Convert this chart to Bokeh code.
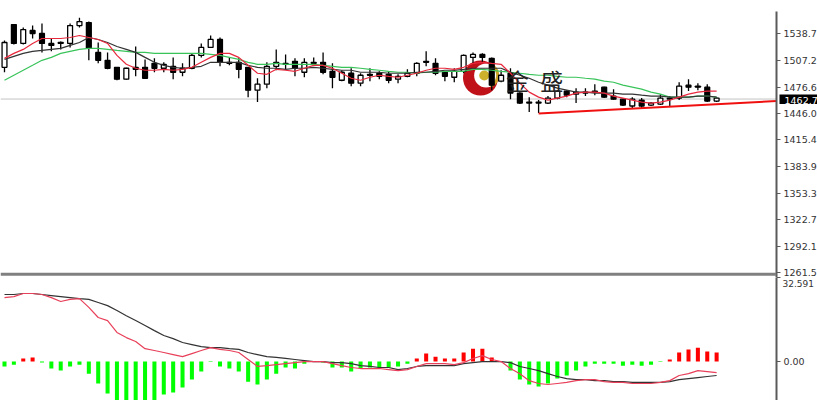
from bokeh.plotting import figure
from bokeh.layouts import column
from bokeh.models import FixedTicker, Range1d, Span
from bokeh.core.properties import value
from bokeh.embed import file_html
from bokeh.resources import INLINE

opens = [1499.5,1549.1,1527.2,1542.2,1538.7,1527.2,1528.3,1527.2,1547.9,1551.4,1516.8,1507.6,1499.5,1485.7,1499.5,1499.5,1504.1,1498.4,1500.7,1493.8,
         1498.4,1513.3,1522.6,1531.8,1505.3,1505.3,1499.5,1473.0,1479.9,1500.7,1504.1,1506.4,1493.8,1505.3,1505.3,1494.9,1484.5,1492.6,1481.1,1491.4,
         1492.6,1491.4,1485.7,1489.1,1492.6,1506.4,1504.1,1493.8,1488.0,1494.9,1511.0,1514.5,1509.9,1483.4,1492.6,1469.6,1459.2,1459.2,1458.0,1463.8,
         1471.9,1468.4,1470.7,1471.9,1476.5,1466.1,1462.6,1454.6,1461.5,1455.7,1456.9,1462.6,1463.8,1478.8,1477.6,1476.5,1460.3]
closes = [1528.3,1527.2,1543.3,1538.7,1527.2,1524.9,1527.2,1547.9,1552.5,1521.4,1507.6,1498.4,1485.7,1498.4,1497.2,1486.8,1498.4,1503.0,1493.8,1498.4,
          1513.3,1522.6,1531.8,1505.3,1504.1,1497.2,1473.0,1479.9,1500.7,1505.3,1503.0,1498.4,1505.3,1504.1,1493.8,1488.0,1493.8,1481.1,1490.3,1490.3,
          1489.1,1484.5,1489.1,1492.6,1504.1,1505.3,1492.6,1489.1,1494.9,1513.3,1514.5,1511.0,1478.8,1490.3,1469.6,1458.0,1458.0,1458.0,1463.8,1471.9,
          1467.2,1470.7,1469.6,1470.7,1464.9,1462.6,1455.7,1462.6,1454.6,1458.0,1463.8,1463.8,1477.6,1476.5,1476.5,1460.3,1463.8]
highs = [1530.6,1549.1,1545.6,1547.9,1550.2,1532.9,1529.5,1550.2,1557.1,1552.5,1528.3,1516.8,1500.0,1499.0,1523.7,1508.7,1509.9,1505.3,1511.0,1504.1,
         1515.7,1527.2,1536.4,1534.1,1511.0,1509.9,1500.0,1486.8,1505.3,1520.3,1514.5,1509.9,1509.9,1511.0,1516.8,1504.1,1496.1,1498.4,1492.6,1498.4,
         1494.9,1494.9,1491.4,1497.2,1505.3,1518.0,1509.9,1494.9,1498.4,1514.5,1516.8,1515.7,1511.0,1496.1,1498.4,1470.7,1464.9,1461.5,1466.1,1473.0,
         1473.0,1475.3,1475.3,1479.9,1477.0,1474.2,1463.0,1464.9,1463.8,1459.2,1468.4,1466.1,1482.2,1485.7,1481.1,1479.9,1464.9]
lows = [1493.8,1526.0,1526.0,1532.9,1516.8,1518.0,1520.3,1522.6,1545.6,1507.6,1504.1,1497.2,1484.5,1485.0,1489.1,1486.5,1493.8,1493.8,1485.7,1489.1,
        1497.2,1511.0,1522.0,1500.7,1501.8,1486.8,1464.9,1459.2,1475.3,1496.1,1497.2,1489.1,1488.0,1501.8,1491.4,1475.3,1483.4,1477.6,1477.6,1483.4,
        1485.7,1481.1,1481.1,1488.0,1489.1,1500.7,1490.3,1483.4,1482.2,1492.6,1504.1,1505.3,1473.0,1482.2,1462.6,1456.9,1447.7,1446.5,1456.9,1462.6,
        1464.9,1458.0,1466.1,1467.2,1463.8,1462.0,1454.6,1451.1,1452.3,1454.6,1455.7,1454.6,1461.5,1471.9,1473.0,1459.2,1459.2]
ma_red = [1509.9,1515.7,1520.3,1527.2,1532.9,1532.9,1532.9,1534.1,1536.4,1534.1,1531.8,1527.2,1513.3,1503.0,1498.4,1496.1,1496.1,1497.2,1496.1,1497.2,
          1499.5,1505.3,1511.0,1515.7,1515.7,1511.0,1501.8,1492.6,1491.4,1497.2,1496.1,1494.9,1498.4,1501.8,1501.8,1498.4,1492.6,1486.8,1484.5,1488.0,
          1490.3,1489.1,1488.0,1490.3,1492.6,1496.1,1498.4,1498.4,1497.2,1499.5,1504.1,1505.3,1504.1,1503.0,1492.6,1481.1,1470.7,1464.9,1461.5,1463.8,
          1466.1,1469.6,1470.7,1470.7,1469.6,1466.1,1463.8,1461.5,1459.2,1458.0,1459.2,1461.5,1464.9,1468.4,1470.7,1471.9,1471.9]
ma_black = [1508.7,1512.2,1515.7,1518.0,1519.1,1520.3,1521.4,1524.9,1528.3,1534.1,1531.8,1528.3,1523.7,1520.3,1516.8,1511.0,1505.3,1501.8,1499.5,1498.4,
            1499.5,1500.7,1505.3,1505.3,1505.3,1505.3,1501.8,1499.5,1498.4,1498.4,1497.2,1498.4,1498.4,1499.5,1498.4,1497.2,1496.1,1496.1,1493.8,1493.8,
            1493.8,1492.6,1492.6,1492.6,1493.8,1493.8,1494.9,1496.1,1496.1,1497.2,1498.4,1498.4,1498.4,1498.4,1493.8,1490.3,1486.8,1482.2,1478.8,1475.3,
            1473.0,1470.7,1470.7,1469.6,1469.6,1469.6,1468.4,1468.4,1467.2,1466.1,1466.1,1464.9,1464.9,1464.9,1466.1,1466.1,1464.9]
ma_green = [1484.5,1490.3,1496.1,1501.8,1507.6,1511.0,1515.7,1518.0,1520.3,1521.4,1521.4,1520.3,1519.1,1518.0,1516.8,1516.8,1515.7,1515.7,1515.7,1515.7,
            1515.7,1515.7,1514.5,1513.3,1511.0,1508.7,1505.3,1503.0,1503.0,1504.1,1503.0,1503.0,1503.0,1503.0,1501.8,1500.7,1499.5,1499.5,1498.4,1497.2,
            1496.1,1494.9,1493.8,1493.8,1492.6,1493.8,1493.8,1494.9,1494.9,1494.9,1497.2,1497.2,1496.1,1494.9,1493.8,1492.6,1491.4,1490.3,1490.3,1489.1,
            1488.0,1488.0,1486.8,1485.7,1483.4,1482.2,1478.8,1476.5,1474.2,1470.7,1468.4,1464.9,1464.9,1464.9,1466.1,1466.1,1464.9]
macd_hist = [-1.9,-1.2,1.2,1.6,-0.4,-2.7,-3.5,-1.9,-1.2,-4.7,-8.5,-12.4,-17.1,-18.2,-18.2,-17.5,-15.9,-12.8,-12.0,-10.1,
             -7.0,-3.9,-0.2,-1.9,-2.7,-3.9,-7.8,-8.9,-7.0,-4.7,-2.3,-2.7,-0.8,-0.1,-0.4,-2.3,-2.3,-3.9,-2.7,-2.3,
             -2.3,-2.3,-1.9,-0.8,1.2,3.1,1.9,1.2,1.2,3.5,5.0,5.0,1.6,0.0,-3.5,-7.0,-8.9,-9.7,-8.5,-6.6,
             -5.4,-3.5,-1.9,-0.8,-0.8,-0.8,-1.6,-1.2,-1.6,-1.2,-0.2,0.8,3.5,4.7,5.4,3.9,3.5]
macd_black = [26.0,26.0,26.4,26.4,26.0,25.6,25.2,24.8,24.4,24.1,22.9,21.7,19.8,17.8,15.9,14.0,12.0,10.1,8.9,7.4,
              6.6,5.8,5.4,5.4,5.0,4.7,3.5,2.7,1.9,1.6,1.2,0.8,0.4,0.0,0.0,-0.4,-0.4,-0.8,-1.6,-1.9,
              -2.3,-2.3,-3.1,-2.7,-1.9,-1.6,-1.6,-1.6,-1.6,-0.8,-0.4,0.0,0.0,0.0,-0.4,-1.9,-2.7,-3.5,-4.7,-5.8,
              -6.6,-7.0,-7.0,-7.4,-7.4,-7.8,-7.8,-8.1,-8.1,-8.1,-8.1,-7.8,-7.0,-6.6,-6.2,-5.8,-5.4]
macd_red = [24.8,25.2,26.4,26.4,26.0,24.8,23.3,24.1,24.4,21.0,17.1,15.9,11.3,9.3,7.8,5.0,4.3,3.5,2.7,1.9,
            3.1,4.3,5.4,4.7,4.3,3.5,0.8,-1.9,-1.6,-1.2,-0.8,-0.4,0.0,0.0,0.0,-0.8,-1.6,-2.3,-2.7,-2.7,
            -2.7,-3.1,-3.5,-3.1,-1.9,-0.8,-0.8,-0.8,-1.2,-0.4,1.2,2.3,0.8,0.0,-2.7,-4.7,-7.4,-8.5,-8.9,-8.5,
            -8.1,-7.4,-7.0,-7.0,-7.8,-8.1,-8.1,-8.5,-8.5,-8.5,-8.1,-7.4,-5.4,-4.7,-3.5,-3.9,-4.3]
price_ticks = [1538.7,1507.2,1476.6,1446.0,1415.4,1383.9,1353.3,1322.7,1292.1,1261.5]
current_price = 1462.7
trend_x = [57, 82.4]
trend_y = [1446.0, 1460.4]
brand_x = [54.75, 58.4]
brand_y = [1485.3, 1485.3]
brand_text = ["金", "盛"]

idx = list(range(len(opens)))
X_RANGE = Range1d(-0.427, 82.39)
AXIS_FONT = "DejaVu Sans"
AXIS_COL = "#5a5a5a"
AXIS_SIZE = "9.5px"

p = figure(width=817, height=277, frame_width=776, frame_height=277, x_range=X_RANGE,
           y_range=Range1d(1255.7, 1577.0), x_axis_location=None, y_axis_location="right",
           toolbar_location=None, output_backend="svg",
           min_border_left=0, min_border_right=0, min_border_top=0, min_border_bottom=0,
           outline_line_color=None, background_fill_color="white", border_fill_color="white")
p.grid.visible = False
ax = p.yaxis[0]
ax.ticker = FixedTicker(ticks=price_ticks)
ax.major_label_overrides = {t: f"{t:.1f}" for t in price_ticks}
ax.bounds = (1255.7, 1564.0)
ax.axis_line_color = AXIS_COL
ax.axis_line_width = 2
ax.major_tick_line_color = AXIS_COL
ax.major_tick_in = 0
ax.major_tick_out = 4
ax.minor_tick_line_color = None
ax.major_label_standoff = 3
ax.major_label_text_font = AXIS_FONT
ax.major_label_text_font_size = AXIS_SIZE
ax.major_label_text_color = "#333333"

p.add_layout(Span(location=current_price, dimension="width", line_color="#c4c4c4", line_width=1, level="underlay"))
p.add_layout(Span(location=1259.5, dimension="width", line_color="#808080", line_width=3, level="overlay"))

# watermark logo
p.scatter([50.8], [1487.1], size=35, fill_color="#c01018", line_color=None)
p.scatter([51.4], [1490.0], size=24, fill_color="white", line_color=None)
p.annular_wedge([51.4], [1490.0], inner_radius=10, outer_radius=13, inner_radius_units="screen", outer_radius_units="screen",
                start_angle=-1.2, end_angle=1.0, fill_color="#c9a227", line_color=None)
p.scatter([51.2], [1490.0], size=10, fill_color="#cdb02c", line_color=None)

# candles
p.segment(idx, lows, idx, highs, line_color="black", line_width=1.3)
tops = [max(a, b) for a, b in zip(opens, closes)]
bots = [min(a, b) for a, b in zip(opens, closes)]
fills = ["white" if c > o else "black" for o, c in zip(opens, closes)]
p.vbar(x=idx, top=tops, bottom=bots, width=0.52, fill_color=fills, line_color="black", line_width=1.3)
p.line(idx, ma_green, line_color="#39c45a", line_width=1.2)
p.line(idx, ma_black, line_color="#333333", line_width=1.2)
p.line(idx, ma_red, line_color="#e8283c", line_width=1.2)
p.line(trend_x, trend_y, line_color="#f01010", line_width=2)
p.text(brand_x, brand_y, text=brand_text, text_font=value("Noto Sans CJK SC"), text_font_size="23px",
       text_align="center", text_baseline="middle", text_color="#222222")

q = figure(width=817, height=123, frame_width=776, frame_height=123, x_range=X_RANGE,
           y_range=Range1d(-15.1, 32.6), x_axis_location=None, y_axis_location="right",
           toolbar_location=None, output_backend="svg",
           min_border_left=0, min_border_right=0, min_border_top=0, min_border_bottom=0,
           outline_line_color=None, background_fill_color="white", border_fill_color="white")
q.grid.visible = False
bx = q.yaxis[0]
bx.ticker = FixedTicker(ticks=[32.591, 0.0])
bx.major_label_overrides = {0.0: "0.00", 32.591: ""}
bx.axis_line_color = AXIS_COL
bx.axis_line_width = 2
bx.major_tick_line_color = AXIS_COL
bx.major_tick_in = 0
bx.major_tick_out = 4
bx.minor_tick_line_color = None
bx.major_label_standoff = 3
bx.major_label_text_font = AXIS_FONT
bx.major_label_text_font_size = AXIS_SIZE
bx.major_label_text_color = "#333333"
hist_cols = ["#ff0000" if v > 0 else "#00ff00" for v in macd_hist]
q.vbar(x=idx, top=[max(v, 0) for v in macd_hist], bottom=[min(v, 0) for v in macd_hist], width=0.43,
       fill_color=hist_cols, line_color=None)
q.line(idx, macd_black, line_color="#333333", line_width=1.2)
q.line(idx, macd_red, line_color="#e8405a", line_width=1.2)


def tag(text, left, top, w, h, bg, fg, size, pad):
    """Small overlay figure for a text that sits in the axis gutter."""
    t = figure(width=w, height=h, x_range=Range1d(0, w), y_range=Range1d(0, h),
               x_axis_location=None, y_axis_location=None, toolbar_location=None, output_backend="svg",
               min_border_left=0, min_border_right=0, min_border_top=0, min_border_bottom=0,
               outline_line_color=None, background_fill_color=bg, border_fill_color=bg,
               styles={"position": "absolute", "left": f"{left}px", "top": f"{top}px"})
    t.grid.visible = False
    t.text([pad], [h / 2], text=[text], text_font=value(AXIS_FONT), text_font_size=size, text_color=fg,
           text_align="left", text_baseline="middle")
    return t


price_tag = tag(f"{current_price:.1f}", 779, 93, 38, 11, "black", "white", AXIS_SIZE, 5)
macd_tag = tag("32.591", 781, 276, 36, 11, "white", "#333333", "9px", 1)

layout = column(p, q, spacing=0, styles={"position": "absolute", "left": "0", "top": "0"})
open("out.html", "w").write(file_html([layout, price_tag, macd_tag], INLINE))
